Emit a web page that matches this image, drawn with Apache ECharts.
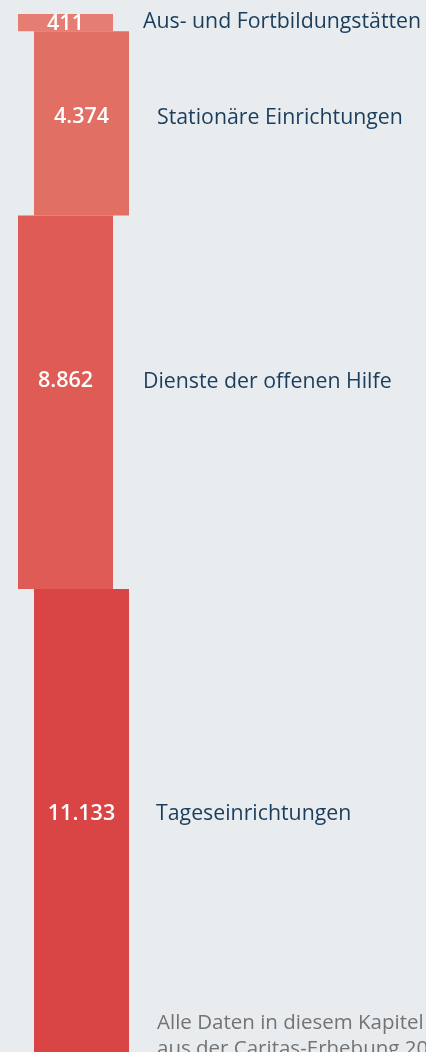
<!DOCTYPE html>
<html>
<head>
<meta charset="utf-8">
<script src="https://cdn.jsdelivr.net/npm/echarts@6/dist/echarts.min.js"></script>
<style>
html,body{margin:0;padding:0;background:#e8ecef;overflow:hidden;}
#chart{width:426px;height:1060px;}
</style>
</head>
<body>
<div id="chart"></div>
<script>
// ---- data ----
var categories = ['Aus- und Fortbildungstätten', 'Stationäre Einrichtungen', 'Dienste der offenen Hilfe', 'Tageseinrichtungen'];
var values = [411, 4374, 8862, 11133];
var footnote = 'Alle Daten in diesem Kapitel stammen\naus der Caritas-Erhebung 2016';

// ---- styles ----
var colors = ['#e57d72', '#e26f63', '#df5b55', '#d94445'];
var blockLeft = [18, 34, 18, 34];
var blockWidth = 95;
var labelFrac = [0.55, 0.465, 0.444, 0.479];
var textGap = [30, 28, 30, 27];
var FONT = '"Open Sans", Lato, sans-serif';

var total = values.reduce(function (a, b) { return a + b; }, 0);
var starts = [];
var acc = 0;
values.forEach(function (v) { starts.push(acc); acc += v; });
var seriesData = values.map(function (v, i) { return [starts[i], starts[i] + v, v]; });

function fmt(v) { return v.toLocaleString('de-DE'); }

var chart = echarts.init(document.getElementById('chart'));
chart.setOption({
  backgroundColor: '#e8ecef',
  animation: false,
  grid: { left: 0, right: 0, top: 14, bottom: 2 },
  xAxis: { type: 'value', min: 0, max: 426, show: false },
  yAxis: { type: 'value', inverse: true, min: 0, max: total, show: false },
  series: [{
    type: 'custom',
    clip: false,
    data: seriesData,
    renderItem: function (params, api) {
      var i = params.dataIndex;
      var s = api.value(0), e = api.value(1), v = api.value(2);
      var p0 = api.coord([blockLeft[i], s]);
      var p1 = api.coord([blockLeft[i] + blockWidth, e]);
      var ly = api.coord([0, s + v * labelFrac[i]])[1];
      return {
        type: 'group',
        children: [
          { type: 'rect', shape: { x: p0[0], y: p0[1], width: p1[0] - p0[0], height: p1[1] - p0[1] },
            style: { fill: colors[i] } },
          { type: 'text', x: (p0[0] + p1[0]) / 2, y: ly,
            style: { text: fmt(v), fill: '#ffffff', font: '600 21.5px ' + FONT, align: 'center', verticalAlign: 'middle' } },
          { type: 'text', x: p1[0] + textGap[i], y: ly - (i === 0 ? 2.5 : 0) + 0.5,
            style: { text: categories[i], fill: '#1b3d5c', font: '21.3px ' + FONT, align: 'left', verticalAlign: 'middle' } }
        ]
      };
    }
  }],
  graphic: [{
    type: 'text', left: 157, top: 1010,
    style: { text: footnote, fill: '#737373', font: '20.5px ' + FONT, lineHeight: 26 }
  }]
});
</script>
</body>
</html>
